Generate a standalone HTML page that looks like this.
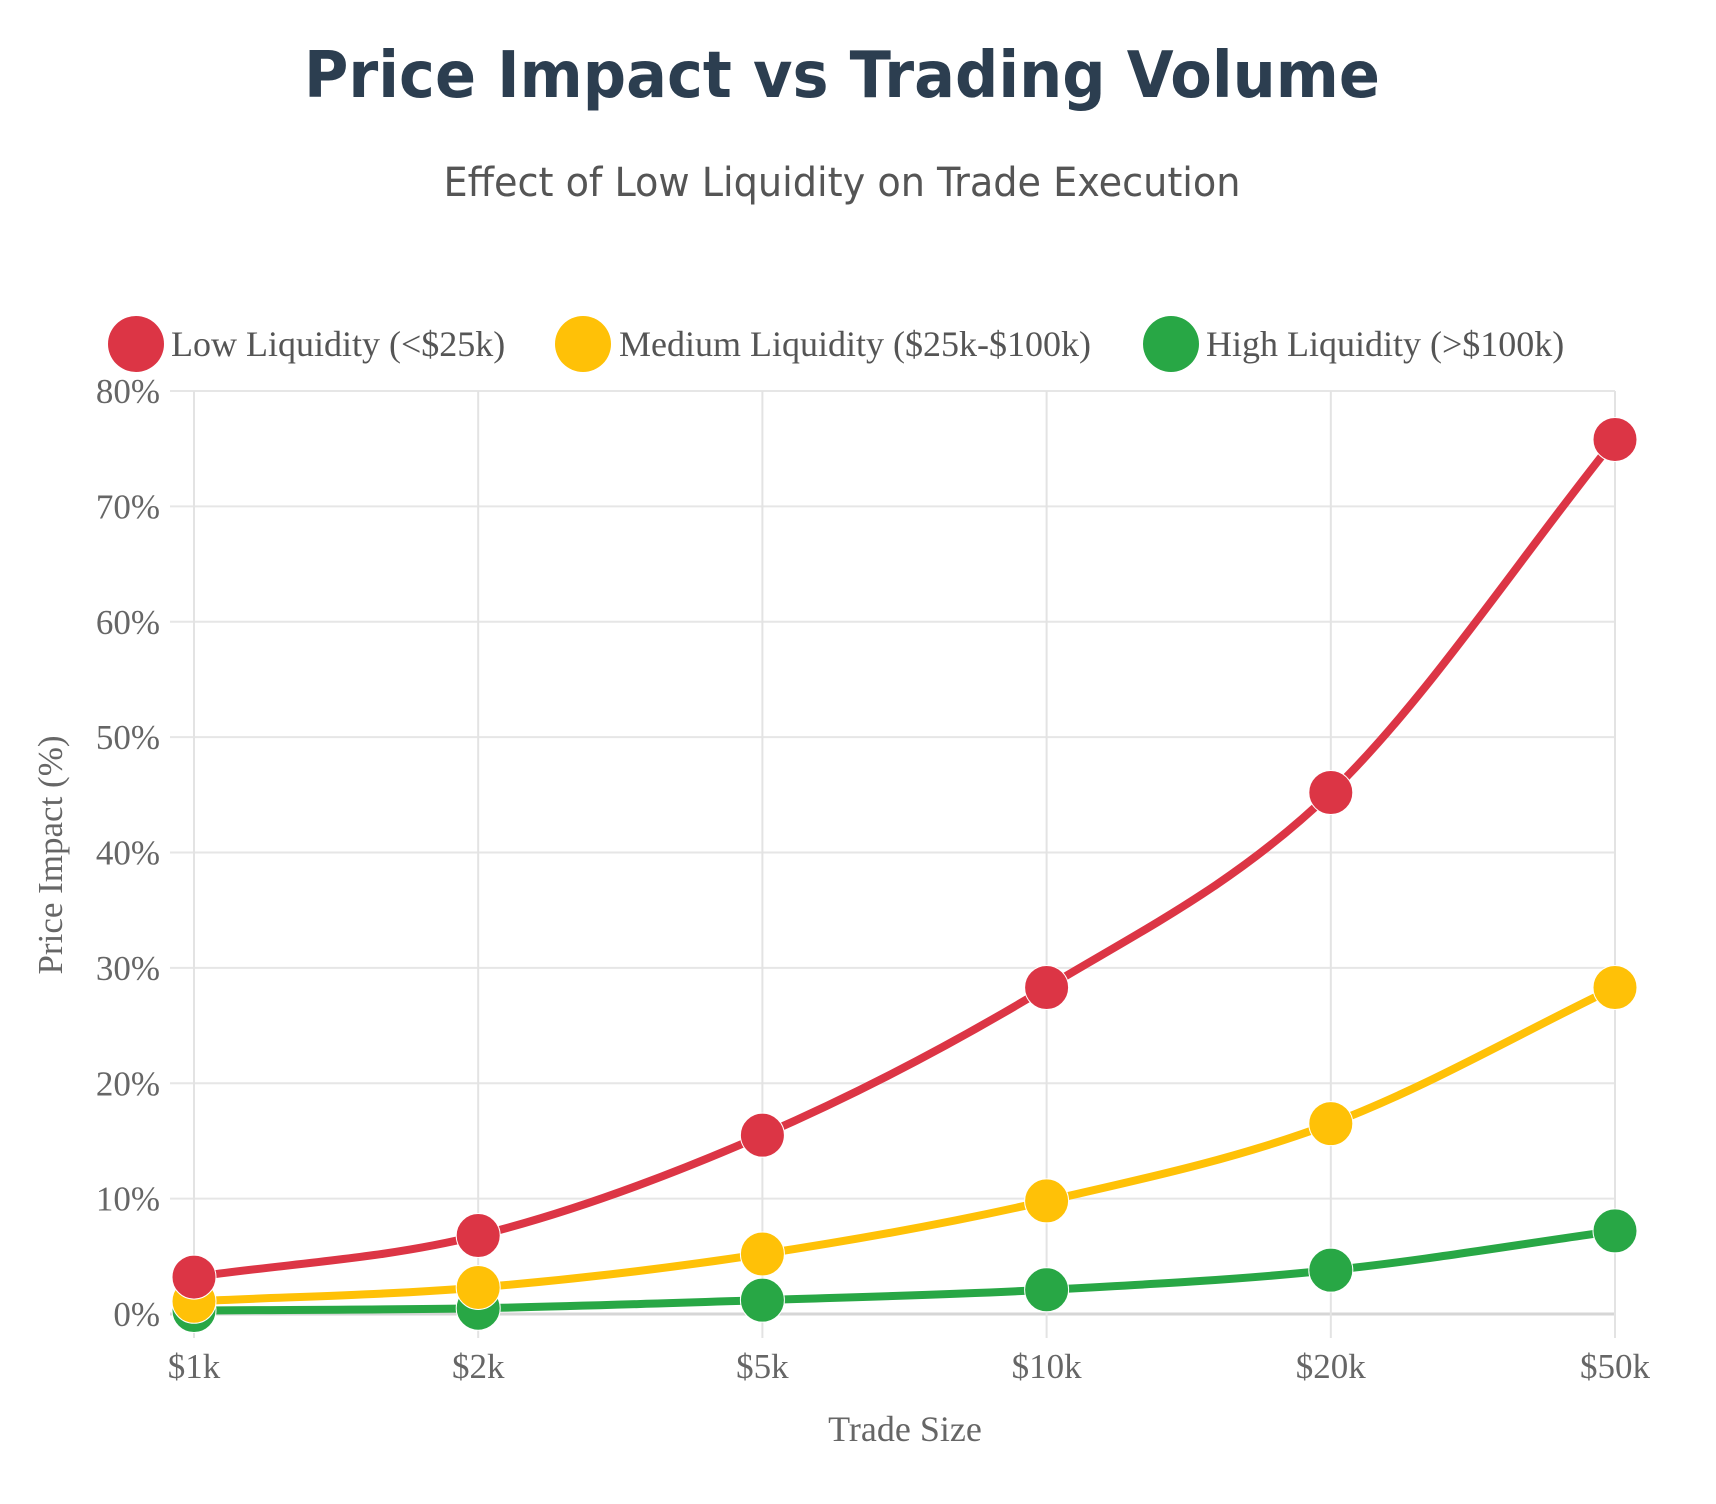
<!DOCTYPE html>
<html><head><meta charset="utf-8"><style>
html,body{margin:0;padding:0;background:#fff;}
svg{display:block;}
</style></head><body>
<svg id="chart" width="1716" height="1504" xmlns="http://www.w3.org/2000/svg">
<text x="842" y="97" text-anchor="middle" font-family="DejaVu Sans, sans-serif" font-weight="bold" font-size="64" fill="#2c3e50" textLength="1076" lengthAdjust="spacingAndGlyphs">Price Impact vs Trading Volume</text>
<text x="842" y="196" text-anchor="middle" font-family="DejaVu Sans Condensed, DejaVu Sans, sans-serif" font-size="40" fill="#555" textLength="797" lengthAdjust="spacingAndGlyphs">Effect of Low Liquidity on Trade Execution</text>
<g id="legend" font-family="Liberation Serif, serif" font-size="36" fill="#555"></g>
<g id="grid"></g>
<g id="axes" font-family="Liberation Serif, serif" font-size="35" fill="#666"></g>
<g id="series"></g>
<text x="905" y="1441" text-anchor="middle" font-family="Liberation Serif, serif" font-size="36" fill="#666">Trade Size</text>
<text transform="translate(62,855) rotate(-90)" text-anchor="middle" font-family="Liberation Serif, serif" font-size="35" fill="#666">Price Impact (%)</text>
</svg>
<script>
const categories = ["$1k","$2k","$5k","$10k","$20k","$50k"];
const lowValues = [3.2, 6.8, 15.5, 28.3, 45.2, 75.8];
const mediumValues = [1.1, 2.3, 5.2, 9.8, 16.5, 28.3];
const highValues = [0.3, 0.5, 1.2, 2.1, 3.8, 7.2];
const yTicks = [0,10,20,30,40,50,60,70,80];
const seriesNames = ["Low Liquidity (<$25k)","Medium Liquidity ($25k-$100k)","High Liquidity (>$100k)"];

const NS="http://www.w3.org/2000/svg";
const X0=194,X1=1615,Y0=1314,Y1=391,YMAX=80;
const xs=i=>X0+(X1-X0)*i/(categories.length-1);
const ys=v=>Y0-(Y0-Y1)*v/YMAX;
function mk(tag,attrs,parent){const e=document.createElementNS(NS,tag);for(const k in attrs)e.setAttribute(k,attrs[k]);parent.appendChild(e);return e;}
const grid=document.getElementById('grid'),axes=document.getElementById('axes'),ser=document.getElementById('series'),leg=document.getElementById('legend');

yTicks.forEach(t=>{
  const l=mk('line',{x1:170,x2:X1,y1:ys(t),y2:ys(t),stroke:t===0?'#d6d6d6':'#e6e6e6','stroke-width':t===0?3:2},grid);
  
  
  const tx=mk('text',{x:160,y:ys(t)+12,'text-anchor':'end'},axes);
  tx.textContent=t+'%';
  
  
});
categories.forEach((c,i)=>{
  const l=mk('line',{x1:xs(i),x2:xs(i),y1:Y1,y2:Y0+24,stroke:'#e3e3e3','stroke-width':2},grid);
  
  
  const tx=mk('text',{x:xs(i),y:1378,'text-anchor':'middle'},axes);
  tx.textContent=c;
  
  
});

function smooth(pts){
  const n=pts.length;const d=[],m=[];
  for(let i=0;i<n-1;i++)d.push((pts[i+1][1]-pts[i][1])/(pts[i+1][0]-pts[i][0]));
  m[0]=d[0];m[n-1]=d[n-2];
  for(let i=1;i<n-1;i++)m[i]=(d[i-1]*d[i]<=0)?0:(d[i-1]+d[i])/2;
  let s='M'+pts[0][0]+','+pts[0][1];
  for(let i=0;i<n-1;i++){const h=(pts[i+1][0]-pts[i][0])/3;
    s+=' C'+(pts[i][0]+h)+','+(pts[i][1]+m[i]*h)+' '+(pts[i+1][0]-h)+','+(pts[i+1][1]-m[i+1]*h)+' '+pts[i+1][0]+','+pts[i+1][1];}
  return s;
}
const allSeries=[[lowValues,'#dc3545','low'],[mediumValues,'#ffc107','medium'],[highValues,'#28a745','high']];
allSeries.slice().reverse().forEach(([vals,col,key])=>{
  const g=mk('g',{},ser);
  
  
  const pts=vals.map((v,i)=>[xs(i),ys(v)]);
  const p=mk('path',{d:smooth(pts),fill:'none',stroke:col,'stroke-width':8,'stroke-linecap':'round'},g);
  
  
  pts.forEach(pt=>{
    const c=mk('circle',{cx:pt[0],cy:pt[1],r:22,fill:col,stroke:'#fff','stroke-width':1},g);
    
    
  });
});
const legPos=[[136,171],[583,619],[1171,1206]];
allSeries.forEach(([v,col,key],i)=>{
  const g=mk('g',{},leg);
  
  
  mk('circle',{cx:legPos[i][0],cy:344,r:28,fill:col},g);
  const t=mk('text',{x:legPos[i][1],y:356},g);
  t.textContent=seriesNames[i];
});
</script>
</body></html>
